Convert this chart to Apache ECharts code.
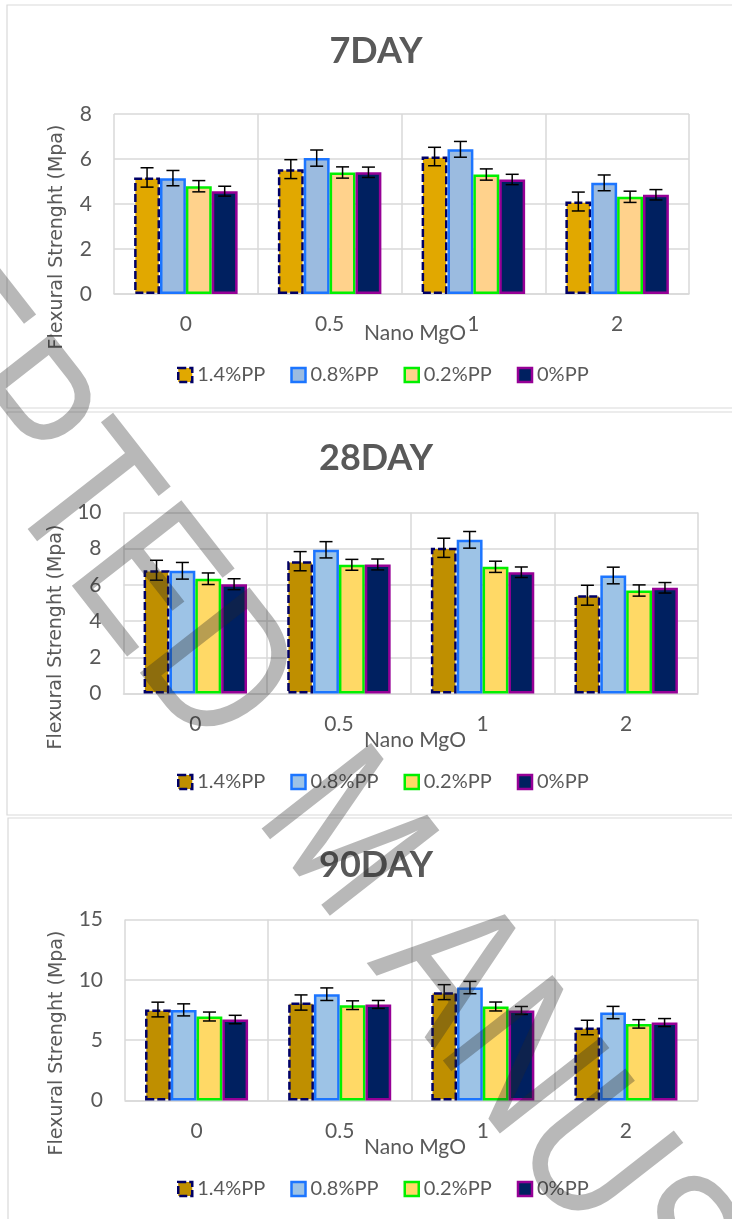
<!DOCTYPE html>
<html>
<head>
<meta charset="utf-8">
<title>Flexural strength vs Nano MgO</title>
<script src="https://cdn.jsdelivr.net/npm/echarts@6/dist/echarts.min.js"></script>
<style>
  html, body { margin: 0; padding: 0; background: #ffffff; }
  #chart { width: 732px; height: 1219px; }
</style>
</head>
<body>
<div id="chart"></div>
<script>
// ---- data ----
const categories = ['0', '0.5', '1', '2'];           // Nano MgO content
const seriesNames = ['1.4%PP', '0.8%PP', '0.2%PP', '0%PP'];
const panelTitles = ['7DAY', '28DAY', '90DAY'];
const yMax = [8, 10, 15];
const yStep = [2, 2, 5];

// flexural strength (MPa), one row per fibre content, one column per MgO dose
const day7Values = [
  [5.18, 5.55, 6.11, 4.11],
  [5.15, 6.04, 6.43, 4.94],
  [4.79, 5.40, 5.31, 4.32],
  [4.57, 5.41, 5.09, 4.41]
];
const day7Errors = [
  [0.43, 0.42, 0.41, 0.42],
  [0.34, 0.36, 0.35, 0.35],
  [0.25, 0.25, 0.25, 0.25],
  [0.22, 0.23, 0.23, 0.23]
];
const day28Values = [
  [6.81, 7.31, 8.05, 5.43],
  [6.78, 7.94, 8.49, 6.52],
  [6.34, 7.11, 7.00, 5.69],
  [6.04, 7.13, 6.70, 5.84]
];
const day28Errors = [
  [0.55, 0.53, 0.53, 0.55],
  [0.46, 0.45, 0.46, 0.46],
  [0.32, 0.30, 0.31, 0.31],
  [0.30, 0.30, 0.29, 0.29]
];
const day90Values = [
  [7.54, 8.12, 8.98, 6.05],
  [7.51, 8.81, 9.36, 7.29],
  [6.96, 7.90, 7.79, 6.35],
  [6.71, 7.96, 7.46, 6.46]
];
const day90Errors = [
  [0.61, 0.63, 0.62, 0.60],
  [0.50, 0.52, 0.51, 0.51],
  [0.37, 0.36, 0.37, 0.35],
  [0.35, 0.33, 0.33, 0.33]
];

// ---- styling ----
const panelValues = [day7Values, day28Values, day90Values];
const panelErrors = [day7Errors, day28Errors, day90Errors];
const fills = [
  ['#E1A800', '#9BBBE0', '#FFD28C', '#002060'],
  ['#BF8F00', '#9DC3E6', '#FFD966', '#002060'],
  ['#BF8F00', '#9DC3E6', '#FFD966', '#002060']
];
const borders = ['#000066', '#1C75FF', '#00F000', '#960096'];
const borderTypes = [[8, 3], 'solid', 'solid', 'solid'];
const CAT_GAP = 0.28;

const grids = [
  { left: 114, top: 114, width: 575, height: 180 },
  { left: 123.5, top: 512.5, width: 574.5, height: 181 },
  { left: 125, top: 919.5, width: 572.5, height: 181 }
];
const titleY = [51, 458, 865];
const yNamePos = [[57, 237], [56, 637], [57, 1043]];
const xNameY = [333, 740, 1147];
const legendY = [370, 777, 1184];
const panelBoxes = [
  { x: 7, y: 5, height: 403 },
  { x: 7, y: 412, height: 403 },
  { x: 8, y: 818, height: 420 }
];

const TEXT = '#595959';
const GRIDLINE = '#D9D9D9';

const option = {
  backgroundColor: '#ffffff',
  animation: false,
  grid: grids,
  xAxis: [],
  yAxis: [],
  legend: [],
  series: [],
  graphic: []
};

function itemStyleFor(p, s) {
  return {
    color: fills[p][s],
    borderColor: borders[s],
    borderWidth: 2.5,
    borderType: borderTypes[s]
  };
}

function renderErrorBar(params, api) {
  const c = api.value(0), v = api.value(1), e = api.value(2), s = api.value(3);
  const band = api.size([1, 0])[0];
  const bw = band * (1 - CAT_GAP) / 4;
  const top = api.coord([c, v + e]);
  const bot = api.coord([c, v - e]);
  const x = top[0] + (s - 1.5) * bw;
  const half = 6.5;
  const style = { stroke: '#000000', lineWidth: 1.5 };
  return {
    type: 'group',
    children: [
      { type: 'line', shape: { x1: x, y1: top[1], x2: x, y2: bot[1] }, style },
      { type: 'line', shape: { x1: x - half, y1: top[1], x2: x + half, y2: top[1] }, style },
      { type: 'line', shape: { x1: x - half, y1: bot[1], x2: x + half, y2: bot[1] }, style }
    ]
  };
}

for (let p = 0; p < 3; p++) {
  option.xAxis.push({
    type: 'category',
    gridIndex: p,
    data: categories,
    axisTick: { show: false },
    axisLine: { show: true, lineStyle: { color: GRIDLINE, width: 1.5 } },
    axisLabel: { color: TEXT, fontSize: 21, fontFamily: 'Lato', margin: 20, interval: 0 },
    splitLine: { show: true, interval: 0, lineStyle: { color: GRIDLINE, width: 1.5 } }
  });
  option.yAxis.push({
    type: 'value',
    gridIndex: p,
    min: 0,
    max: yMax[p],
    interval: yStep[p],
    axisLine: { show: false },
    axisTick: { show: false },
    axisLabel: { color: TEXT, fontSize: 21, fontFamily: 'Lato', margin: 22 },
    splitLine: { show: true, lineStyle: { color: GRIDLINE, width: 1.5 } }
  });

  option.legend.push({
    left: 172,
    top: legendY[p] - 10,
    icon: 'rect',
    itemWidth: 14,
    itemHeight: 14,
    itemGap: 23,
    textStyle: { color: TEXT, fontSize: 20, fontFamily: 'Lato', width: 70, lineHeight: 20 },
    data: seriesNames.map((n, s) => ({ name: n, itemStyle: itemStyleFor(p, s) }))
  });

  const errData = [];
  for (let s = 0; s < 4; s++) {
    option.series.push({
      type: 'bar',
      name: seriesNames[s],
      xAxisIndex: p,
      yAxisIndex: p,
      data: panelValues[p][s],
      barGap: '0%',
      barCategoryGap: (CAT_GAP * 100) + '%',
      itemStyle: itemStyleFor(p, s)
    });
    for (let c = 0; c < categories.length; c++) {
      errData.push([c, panelValues[p][s][c], panelErrors[p][s][c], s]);
    }
  }
  option.series.push({
    type: 'custom',
    name: 'error-' + p,
    xAxisIndex: p,
    yAxisIndex: p,
    data: errData,
    encode: { x: 0, y: 1 },
    renderItem: renderErrorBar,
    silent: true,
    z: 10
  });

  // panel frame
  option.graphic.push({
    type: 'rect',
    silent: true,
    z: 0,
    shape: { x: panelBoxes[p].x, y: panelBoxes[p].y, width: 760, height: panelBoxes[p].height },
    style: { fill: 'none', stroke: GRIDLINE, lineWidth: 1.2 }
  });
  // panel title
  option.graphic.push({
    type: 'text',
    silent: true,
    x: 376, y: titleY[p],
    style: {
      text: panelTitles[p], fill: TEXT,
      fontSize: 36, fontWeight: 'bold', fontFamily: 'Lato',
      textAlign: 'center', textVerticalAlign: 'middle', align: 'center', verticalAlign: 'middle'
    }
  });
  // value axis name
  option.graphic.push({
    type: 'text',
    silent: true,
    x: yNamePos[p][0], y: yNamePos[p][1],
    rotation: Math.PI / 2,
    style: {
      text: 'Flexural Strenght (Mpa)', fill: TEXT,
      fontSize: 19, fontFamily: 'DejaVu Sans',
      textAlign: 'center', textVerticalAlign: 'middle', align: 'center', verticalAlign: 'middle'
    }
  });
  // category axis name
  option.graphic.push({
    type: 'text',
    silent: true,
    x: 415, y: xNameY[p],
    style: {
      text: 'Nano MgO', fill: TEXT,
      fontSize: 21, fontFamily: 'Lato',
      textAlign: 'center', textVerticalAlign: 'middle', align: 'center', verticalAlign: 'middle'
    }
  });
}

// diagonal manuscript stamp across the page, laid along one slanted line
const stampAngle = -52 * Math.PI / 180;
const dirX = Math.cos(52 * Math.PI / 180), dirY = Math.sin(52 * Math.PI / 180);
const stampStyle = {
  fill: 'rgba(40,40,40,0.33)',
  fontSize: 202, fontFamily: 'Liberation Sans',
  textVerticalAlign: 'middle', verticalAlign: 'middle'
};
// [text, distance along the slanted line from the word break, alignment]
const stampPieces = [
  ['ACCEPTED', 0, 'right'],
  ['M', 78, 'left'],
  ['ANUSCRIPT', 262, 'left']
];
const stampOrigin = [249, 722];
stampPieces.forEach(([text, dist, align]) => {
  option.graphic.push({
    type: 'text', silent: true, z: 200,
    x: stampOrigin[0] + dist * dirX,
    y: stampOrigin[1] + dist * dirY,
    rotation: stampAngle, scaleX: 0.82,
    style: Object.assign({ text, textAlign: align, align }, stampStyle)
  });
});

const chart = echarts.init(document.getElementById('chart'), null, { renderer: 'canvas' });
chart.setOption(option);
</script>
</body>
</html>
